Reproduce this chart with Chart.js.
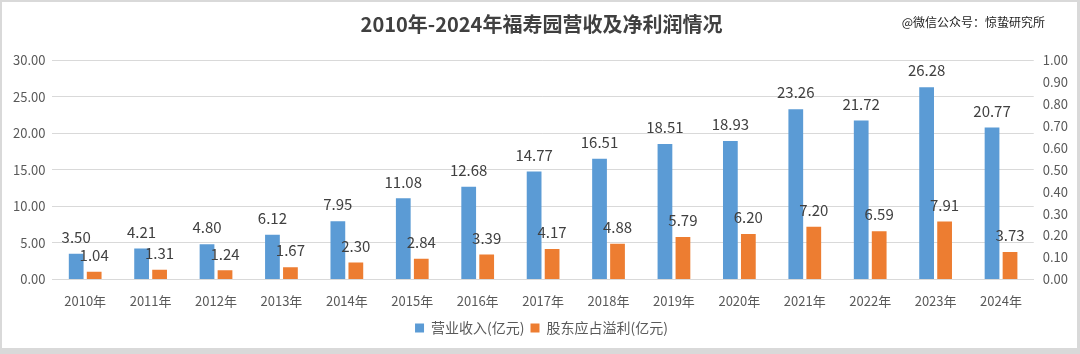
<!DOCTYPE html>
<html>
<head>
<meta charset="utf-8">
<script src="https://cdn.jsdelivr.net/npm/chart.js@4/dist/chart.umd.min.js"></script>
<style>
  html, body { margin: 0; padding: 0; background: #d9d9d9; }
  #box { position: absolute; left: 2px; top: 2px; width: 1075px; height: 346px; background: #fff; }
  #mark { position: absolute; right: 32px; top: 11px; font: 12px "Noto Sans CJK SC", sans-serif; color: #222; }
</style>
</head>
<body>
<div id="box">
  <canvas id="chart" width="1075" height="346"></canvas>
  <span id="mark">@微信公众号：惊蛰研究所</span>
</div>
<script>
// 年份
const years = ["2010年", "2011年", "2012年", "2013年", "2014年", "2015年", "2016年", "2017年",
  "2018年", "2019年", "2020年", "2021年", "2022年", "2023年", "2024年"];
// 营业收入(亿元)
const revenue = [3.50, 4.21, 4.80, 6.12, 7.95, 11.08, 12.68, 14.77, 16.51, 18.51, 18.93, 23.26, 21.72, 26.28, 20.77];
// 股东应占溢利(亿元)
const profit = [1.04, 1.31, 1.24, 1.67, 2.30, 2.84, 3.39, 4.17, 4.88, 5.79, 6.20, 7.20, 6.59, 7.91, 3.73];

const textColor = "#595959";
const fontFam = "'Noto Sans CJK SC', 'Noto Sans', sans-serif";

// * 柱顶数值
const barLabels = {
  id: "barLabels",
  afterDatasetsDraw(chart) {
    const ctx = chart.ctx;
    ctx.save();
    ctx.font = "15px " + fontFam;
    ctx.fillStyle = "#404040";
    ctx.textAlign = "center";
    ctx.textBaseline = "bottom";
    chart.data.datasets.forEach((ds, i) => {
      chart.getDatasetMeta(i).data.forEach((bar, j) => {
        ctx.fillText(ds.data[j].toFixed(2), bar.x, bar.y - 9);
      });
    });
    ctx.restore();
  },
};

const chart = new Chart(document.getElementById("chart").getContext("2d"), {
  type: "bar",
  data: {
    labels: years,
    datasets: [
      {
        label: "营业收入(亿元)",
        data: revenue,
        backgroundColor: "#5b9bd5",
        categoryPercentage: 0.55,
        barPercentage: 0.82,
      },
      {
        label: "股东应占溢利(亿元)",
        data: profit,
        backgroundColor: "#ed7d31",
        categoryPercentage: 0.55,
        barPercentage: 0.82,
      },
    ],
  },
  options: {
    responsive: false,
    animation: false,
    layout: { padding: { left: 4, right: 0, top: 4, bottom: 3 } },
    plugins: {
      title: {
        display: true,
        text: "2010年-2024年福寿园营收及净利润情况",
        color: "#404040",
        font: { family: fontFam, size: 20, weight: "bold" },
        padding: { top: 6, bottom: 24 },
      },
      legend: {
        position: "bottom",
        labels: {
          boxWidth: 9,
          boxHeight: 9,
          padding: 6,
          color: textColor,
          font: { family: fontFam, size: 14 },
        },
      },
      tooltip: { enabled: false },
    },
    scales: {
      x: {
        grid: { display: false },
        border: { color: "#d9d9d9" },
        ticks: { color: textColor, font: { family: fontFam, size: 13 }, padding: 6 },
      },
      y: {
        min: 0,
        max: 30,
        ticks: {
          stepSize: 5,
          color: textColor,
          font: { family: fontFam, size: 13 },
          padding: 7,
          callback: (v) => v.toFixed(2),
        },
        grid: { color: "#d9d9d9", drawTicks: false },
        border: { display: false },
      },
      y1: {
        position: "right",
        min: 0,
        max: 1,
        ticks: {
          stepSize: 0.1,
          color: textColor,
          font: { family: fontFam, size: 13 },
          padding: 9,
          callback: (v) => v.toFixed(2),
        },
        grid: { display: false, drawTicks: false },
        border: { display: false },
      },
    },
  },
  plugins: [barLabels],
});
</script>
</body>
</html>
